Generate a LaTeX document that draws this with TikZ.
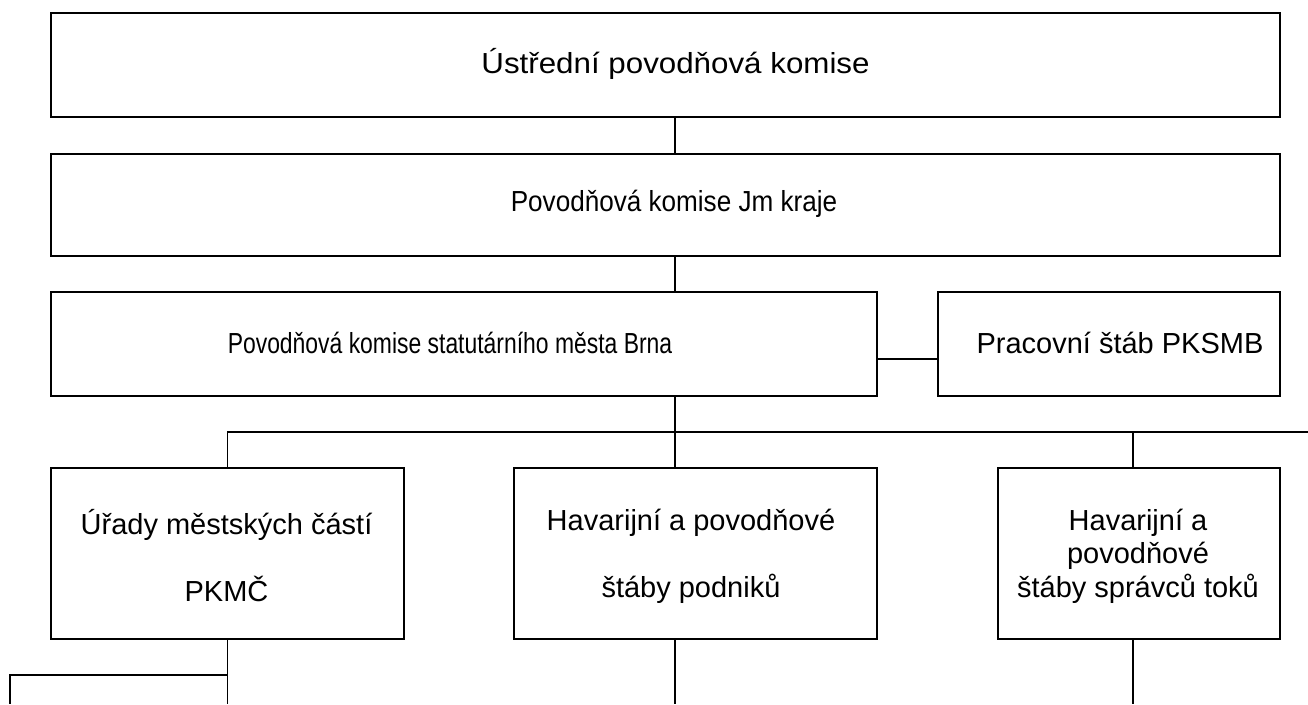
\documentclass[tikz,border=0pt]{standalone}
\usepackage{fontspec}
\setmainfont{Liberation Sans}
\begin{document}
\begin{tikzpicture}[x=1pt,y=-1pt,
  box/.style={draw, line width=2pt, rectangle, inner sep=0pt, anchor=north west},
  txt/.style={inner sep=0pt, align=center, font=\fontsize{29}{33.5}\selectfont},
  conn/.style={line width=1.6pt}]
\useasboundingbox (0,0) rectangle (1308,704);
% boxes
\node[box, minimum width=1229pt, minimum height=104pt] (k1) at (50,12) {};
\node[box, minimum width=1229pt, minimum height=102pt] (k2) at (50,153) {};
\node[box, minimum width=826pt, minimum height=104pt] (k3) at (50,291) {};
\node[box, minimum width=342pt, minimum height=104pt] (ks) at (937,291) {};
\node[box, minimum width=353pt, minimum height=171pt] (kl) at (50,467) {};
\node[box, minimum width=363pt, minimum height=171pt] (km) at (513,467) {};
\node[box, minimum width=282pt, minimum height=171pt] (kr) at (997,467) {};
% texts
\node[txt] (t1) at (675.5,64) {\scalebox{1.08}[1]{Ústřední povodňová komise}};
\node[txt] (t2) at (674,204) {\scalebox{0.9}[1]{Povodňová komise Jm kraje}};
\node[txt] (t3) at (450,343) {\scalebox{0.79}[1]{Povodňová komise statutárního města Brna}};
\node[txt] (t4) at (1120,343) {Pracovní štáb PKSMB};
\node[txt] (t5) at (226.5,556) {Úřady městských částí\\[33.5pt]PKMČ};
\node[txt] (t6) at (691,556) {Havarijní a povodňové\\[33.5pt]štáby podniků};
\node[txt] (t7) at (1138,556) {Havarijní a\\povodňové\\štáby správců toků};
% helper coordinates
\coordinate (c) at (675,0);
\coordinate (bus) at (675,432);
\coordinate (busend) at (1308,432);
\coordinate (rc) at (1133,0);
\coordinate (bot) at (0,704);
\coordinate (lb) at (10,675);
% connectors
\draw[conn] (k1.south -| c) -- (k2.north -| c);
\draw[conn] (k2.south -| c) -- (k3.north -| c);
\draw[conn] (k3.south -| c) -- (bus);
\draw[conn] (k3.east |- 0,359) -- (ks.west |- 0,359);
\draw[conn] (kl.north) |- (busend);
\draw[conn] (km.north -| c) -- (bus);
\draw[conn] (kr.north -| rc) -- (rc |- bus);
\draw[conn] (kl.south) -- (kl.south |- bot);
\draw[conn] (kl.south |- lb) -- (lb) -- (lb |- bot);
\draw[conn] (km.south -| c) -- (c |- bot);
\draw[conn] (kr.south -| rc) -- (rc |- bot);
\end{tikzpicture}
\end{document}
